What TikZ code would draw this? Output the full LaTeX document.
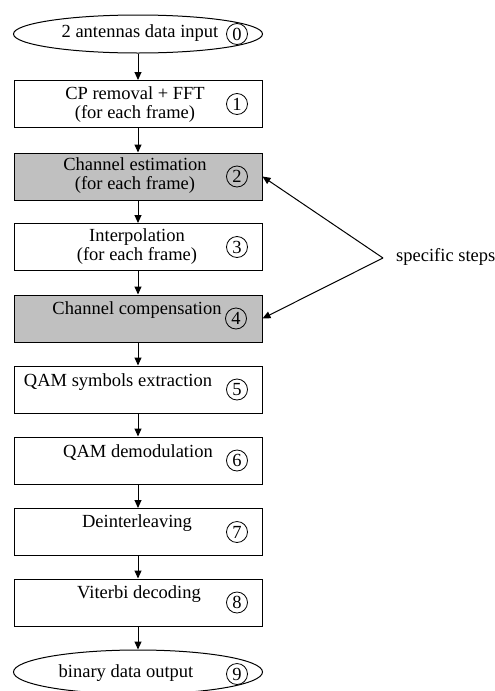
\documentclass[tikz,border=0pt]{standalone}
\usepackage{fontspec}
\setmainfont{Liberation Serif}
\usetikzlibrary{arrows.meta,shapes.geometric}
\definecolor{grisclair}{RGB}{192,192,192}
\tikzset{
  stepbox/.style={draw, line width=1pt, minimum width=248pt, minimum height=47pt, inner sep=0pt},
  greybox/.style={stepbox, fill=grisclair},
  endbox/.style={draw, ellipse, line width=1pt, minimum width=249pt, minimum height=38pt, inner sep=0pt},
  stepnum/.style={draw, circle, line width=0.8pt, minimum size=21pt, inner sep=0pt},
  steptext/.style={align=center, inner sep=0pt},
  flow/.style={line width=1pt, -{Triangle[length=8pt,width=7pt]}}
}
\begin{document}
\begin{tikzpicture}[x=1pt, y=-1pt, font=\fontsize{18.5}{19}\selectfont]
  \clip (0,0) rectangle (495,691);
  % Entrée et sortie
  \node [endbox] (in) at (138,34) {};
  \node [steptext] (in-t) at (140,33) {2 antennas data input};
  \node [stepnum] (in-n) at (237,34) {0};
  \node [endbox, minimum height=44pt] (out) at (138,672) {};
  \node [steptext] (out-t) at (126,673) {binary data output};
  \node [stepnum] (out-n) at (237,674) {9};
  % Étapes
  \node [stepbox] (b1) at (138,104) {};
  \node [steptext] (b1-t) at (135,105) {CP removal + FFT\\(for each frame)};
  \node [stepnum] (b1-n) at (237,104) {1};
  \node [greybox] (b2) at (138,176.5) {};
  \node [steptext] (b2-t) at (135,176) {Channel estimation\\(for each frame)};
  \node [stepnum] (b2-n) at (237,176.5) {2};
  \node [stepbox] (b3) at (138,247) {};
  \node [steptext] (b3-t) at (137,247) {Interpolation\\(for each frame)};
  \node [stepnum] (b3-n) at (237,247) {3};
  \node [greybox] (b4) at (138,318.5) {};
  \node [steptext] (b4-t) at (137,310) {Channel compensation};
  \node [stepnum] (b4-n) at (236,318.5) {4};
  \node [stepbox] (b5) at (138,389.5) {};
  \node [steptext] (b5-t) at (118,382) {QAM symbols extraction};
  \node [stepnum] (b5-n) at (237,389.5) {5};
  \node [stepbox] (b6) at (138,460.5) {};
  \node [steptext] (b6-t) at (138,453) {QAM demodulation};
  \node [stepnum] (b6-n) at (237,460.5) {6};
  \node [stepbox] (b7) at (138,532) {};
  \node [steptext] (b7-t) at (137,523) {Deinterleaving};
  \node [stepnum] (b7-n) at (237,532) {7};
  \node [stepbox] (b8) at (138,602.5) {};
  \node [steptext] (b8-t) at (139,594) {Viterbi decoding};
  \node [stepnum] (b8-n) at (237,602.5) {8};
  % Flèches
  \draw [flow] (in) -- (b1);
  \draw [flow] (b1) -- (b2);
  \draw [flow] (b2) -- (b3);
  \draw [flow] (b3) -- (b4);
  \draw [flow] (b4) -- (b5);
  \draw [flow] (b5) -- (b6);
  \draw [flow] (b6) -- (b7);
  \draw [flow] (b7) -- (b8);
  \draw [flow] (b8) -- (out);
  % Étapes spécifiques
  \node [steptext, anchor=west] (spec) at (396,257) {specific steps};
  \coordinate (apex) at (383,258);
  \draw [flow] (apex) -- (b2.east);
  \draw [flow] (apex) -- (b4.east);
\end{tikzpicture}
\end{document}
